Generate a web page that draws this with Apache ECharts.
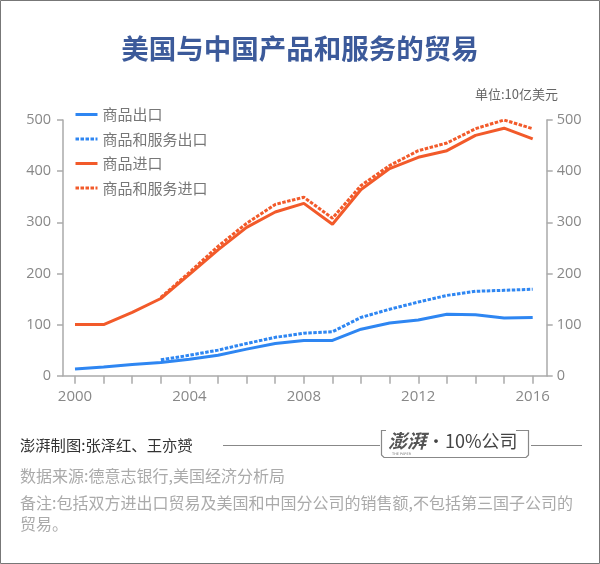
<!DOCTYPE html>
<html>
<head>
<meta charset="utf-8">
<script src="https://cdn.jsdelivr.net/npm/echarts@6/dist/echarts.min.js"></script>
<style>
html,body{margin:0;padding:0;background:#fff;}
#chart{width:600px;height:564px;}
</style>
</head>
<body>
<div id="chart"></div>
<script>
const years = ['2000','2001','2002','2003','2004','2005','2006','2007','2008','2009','2010','2011','2012','2013','2014','2015','2016'];
const goodsExports = [13,17,22,26,32,40,52,63,69,69,91,103,109,120,119,113,114];
const goodsServicesExports = [null,null,null,31,40,50,63,75,83,86,114,130,144,157,165,167,169];
const goodsImports = [100,100,124,151,198,246,290,320,337,296,364,405,427,440,470,484,463];
const goodsServicesImports = [null,null,null,153,202,253,298,335,349,308,372,411,440,455,483,500,483];
const seriesNames = ['商品出口','商品和服务出口','商品进口','商品和服务进口'];
const titleText = '美国与中国产品和服务的贸易';
const unitText = '单位:10亿美元';
const creditText = '澎湃制图:张泽红、王亦赟';
const sourceText = '数据来源:德意志银行,美国经济分析局';
const noteLine1 = '备注:包括双方进出口贸易及美国和中国分公司的销售额,不包括第三国子公司的';
const noteLine2 = '贸易。';

const BLUE = '#2e86f2';
const ORANGE = '#f25a2a';
const AXIS = '#aaaaaa';
const LABEL = '#888888';
const NUMFONT = "'Open Sans','Noto Sans CJK SC',sans-serif";
const CJK = "'Noto Sans CJK SC',sans-serif";

const chart = echarts.init(document.getElementById('chart'), null, {renderer:'canvas'});

const yCommon = {
  type:'value', min:0, max:500, interval:100,
  axisLine:{show:true, lineStyle:{color:AXIS, width:1.5}},
  axisTick:{show:true, length:6, lineStyle:{color:AXIS, width:1.5}},
  splitLine:{show:false},
  axisLabel:{color:LABEL, fontSize:14.5, fontFamily:NUMFONT}
};

function lineSeries(name, data, color, dashed) {
  return {
    name:name, type:'line', data:data, symbol:'none',
    xAxisIndex:0, yAxisIndex:0,
    lineStyle:{color:color, width:3, type: dashed ? [3.5,1.5] : 'solid'},
    itemStyle:{color:color}
  };
}

const option = {
  backgroundColor:'#fff',
  animation:false,
  title:{
    text:titleText, left:'center', top:30,
    textStyle:{color:'#3c5a9a', fontSize:27.5, fontWeight:'bold', fontFamily:CJK}
  },
  legend:{
    orient:'vertical', left:69, top:102,
    itemWidth:22, itemHeight:14, itemGap:9.5,
    itemStyle:{color:'rgba(0,0,0,0)', borderWidth:0, opacity:0},
    lineStyle:{width:3},
    textStyle:{color:'#777', fontSize:15, fontFamily:CJK},
    data:seriesNames
  },
  grid:[
    {left:75, right:67.3, top:120, bottom:188.3},
    {left:63, right:53, top:120, bottom:188.3}
  ],
  xAxis:[
    {
      gridIndex:0, type:'category', data:years, boundaryGap:false,
      axisLine:{show:false},
      axisTick:{show:true, length:8, interval:0, inside:false, lineStyle:{color:AXIS, width:1.5}},
      axisLabel:{interval:3, color:LABEL, fontSize:15, fontFamily:NUMFONT, margin:14},
      splitLine:{show:false}
    },
    {
      gridIndex:1, type:'category', data:years, boundaryGap:false,
      axisLine:{show:true, lineStyle:{color:AXIS, width:1.5}},
      axisTick:{show:false}, axisLabel:{show:false}, splitLine:{show:false}
    }
  ],
  yAxis:[
    Object.assign({gridIndex:0, position:'left', offset:12}, yCommon, {axisLabel:Object.assign({}, yCommon.axisLabel, {margin:12})}),
    Object.assign({gridIndex:0, position:'right', offset:14}, yCommon, {axisLabel:Object.assign({}, yCommon.axisLabel, {margin:10})}),
    {gridIndex:1, type:'value', min:0, max:500, show:false}
  ],
  series:[
    lineSeries(seriesNames[0], goodsExports, BLUE, false),
    lineSeries(seriesNames[1], goodsServicesExports, BLUE, true),
    lineSeries(seriesNames[2], goodsImports, ORANGE, false),
    lineSeries(seriesNames[3], goodsServicesImports, ORANGE, true)
  ],
  graphic:[
    {type:'rect', shape:{x:0.5, y:0.5, width:599, height:563}, style:{fill:'none', stroke:'#777', lineWidth:1}, silent:true},
    {type:'text', right:42, top:88, style:{text:unitText, fill:'#666', font:"13px 'Noto Sans CJK SC'", textAlign:'right'}},
    {type:'text', left:20, top:438, style:{text:creditText, fill:'#333', font:"15.3px 'Noto Sans CJK SC'"}},
    {type:'line', shape:{x1:223, y1:445.5, x2:380, y2:445.5}, style:{stroke:'#888', lineWidth:1.2}},
    {type:'line', shape:{x1:531, y1:445.5, x2:582, y2:445.5}, style:{stroke:'#888', lineWidth:1.2}},
    {type:'polyline', shape:{points:[[386,430.5],[381.5,430.5],[381.5,455],[384,457.5],[526,457.5]]}, style:{stroke:'#888', lineWidth:1.2, fill:'none'}},
    {type:'polyline', shape:{points:[[516,430.5],[528.5,430.5],[528.5,455],[526,457.5]]}, style:{stroke:'#888', lineWidth:1.2, fill:'none'}},
    {type:'text', left:388, top:431, style:{text:'澎湃', fill:'#555', font:"italic bold 19px 'Noto Sans CJK SC'"}},
    {type:'text', left:392, top:452, style:{text:'THE PAPER', fill:'#777', font:"3.5px 'DejaVu Sans'"}},
    {type:'text', left:427, top:432, style:{text:'·10%公司', fill:'#444', font:"18px 'Noto Sans CJK SC'"}},
    {type:'text', left:20, top:468, style:{text:sourceText, fill:'#aaa', font:"16px 'Noto Sans CJK SC'"}},
    {type:'text', left:20, top:495, style:{text:noteLine1, fill:'#aaa', font:"16px 'Noto Sans CJK SC'"}},
    {type:'text', left:20, top:516, style:{text:noteLine2, fill:'#aaa', font:"16px 'Noto Sans CJK SC'"}}
  ]
};
chart.setOption(option);
</script>
</body>
</html>
